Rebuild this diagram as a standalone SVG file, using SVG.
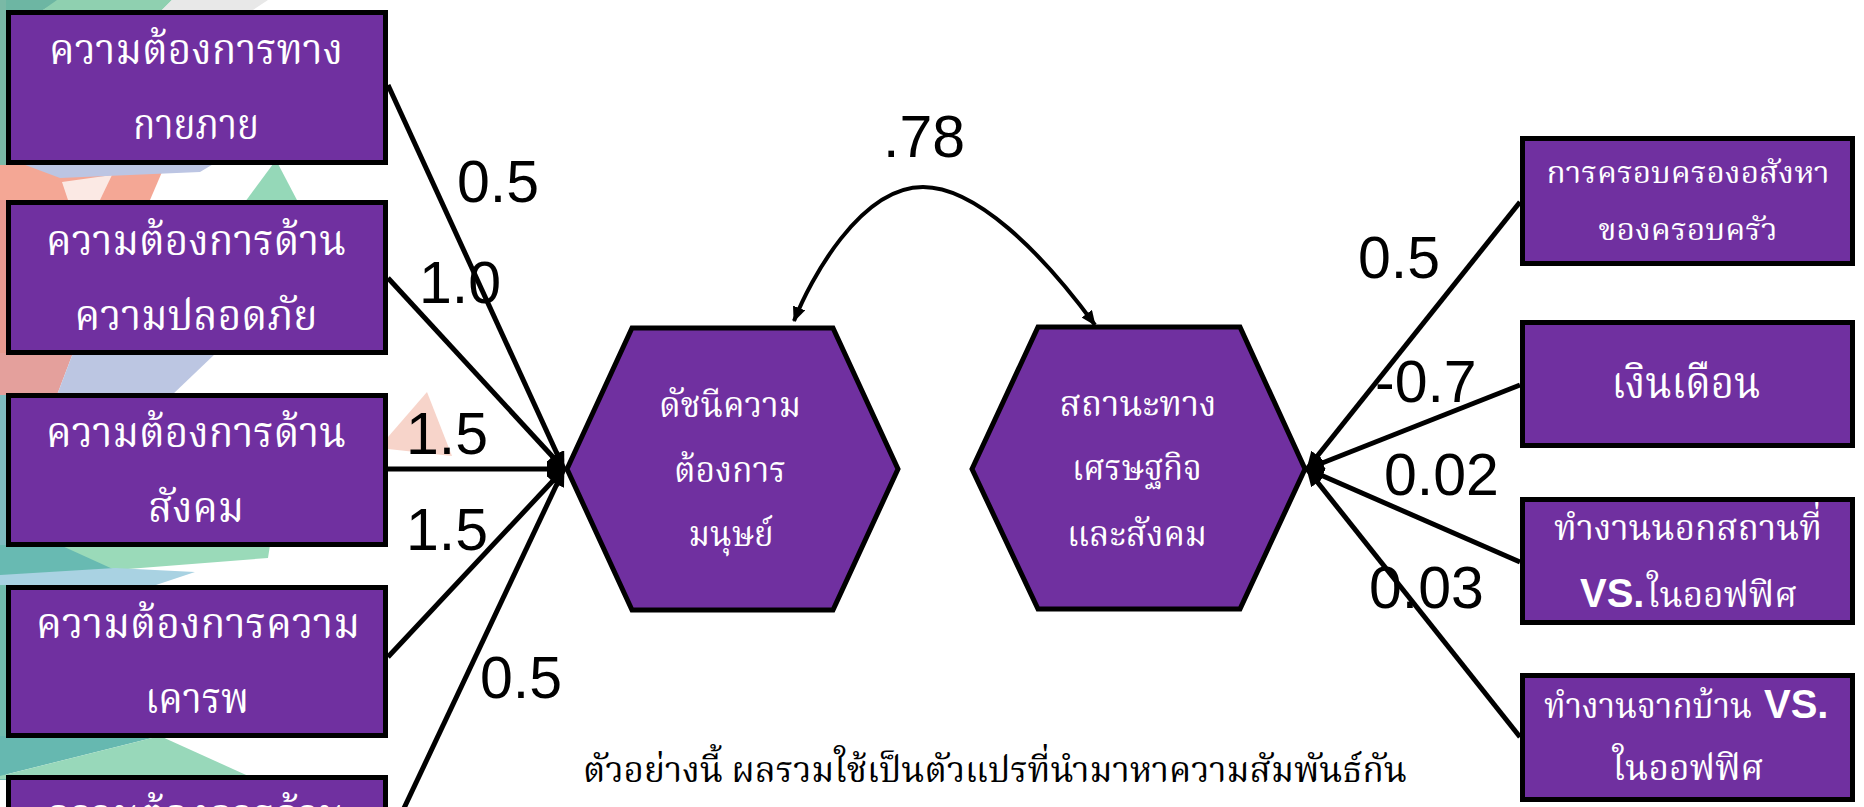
<svg xmlns="http://www.w3.org/2000/svg" width="1864" height="807" viewBox="0 0 1864 807">
  <style>
    .box { fill: #7030A0; stroke: #000; stroke-width: 5; }
    .th { fill: #fff; font-family: "Liberation Serif", "Noto Serif Thai", "Noto Sans Thai", serif; text-anchor: middle; }
    .vs { fill: #fff; font-family: "Liberation Sans", Arial, sans-serif; font-weight: bold; }
    .num { fill: #000; font-family: "Liberation Sans", Arial, sans-serif; font-size: 59px; }
    .edge { stroke: #000; stroke-width: 5; fill: none; marker-end: url(#ah); }
    .cap { fill: #000; font-family: "Liberation Serif", "Noto Serif Thai", serif; }
  </style>
  <defs>
    <marker id="ah" markerWidth="18" markerHeight="16" refX="17" refY="8" orient="auto" markerUnits="userSpaceOnUse">
      <path d="M0,0 L18,8 L0,16 z" fill="#000"/>
    </marker>
    <marker id="ah2" markerWidth="15" markerHeight="13" refX="14" refY="6.5" orient="auto-start-reverse" markerUnits="userSpaceOnUse">
      <path d="M0,0 L15,6.5 L0,13 z" fill="#000"/>
    </marker>
  </defs>

  <rect width="1864" height="807" fill="#fff"/>

  <!-- low-poly backdrop on the left -->
  <g id="backdrop">
    <polygon points="0,0 60,0 40,12 0,12" fill="#6db6a3"/>
    <polygon points="57,0 172,0 160,12 40,12" fill="#8fd0b0"/>
    <polygon points="172,0 268,0 250,12 160,12" fill="#e8e8e8"/>
    <polygon points="0,0 6,0 6,170 0,170" fill="#7ab9a6"/>
    <polygon points="0,165 165,165 150,200 0,200" fill="#f4a795"/>
    <polygon points="62,182 112,175 100,200 68,200" fill="#fbe9e4"/>
    <polygon points="20,163 215,163 200,172 60,178" fill="#bcc5e3"/>
    <polygon points="276,160 245,202 298,202" fill="#95d8b8"/>
    <polygon points="0,200 6,200 6,395 0,395" fill="#e79a8f"/>
    <polygon points="0,353 73,353 57,395 0,395" fill="#e4a09c"/>
    <polygon points="73,353 216,353 172,395 57,395" fill="#bcc6e2"/>
    <polygon points="388,437 427,392 452,456 388,449" fill="#f7d4ca"/>
    <polygon points="0,395 6,395 6,590 0,590" fill="#7fbcc0"/>
    <polygon points="0,545 120,545 115,570 0,580" fill="#68bab2"/>
    <polygon points="60,545 270,545 268,558 115,570" fill="#9adab9"/>
    <polygon points="0,575 115,568 195,572 150,587 0,587" fill="#a9d2e2"/>
    <polygon points="0,585 6,585 6,780 0,780" fill="#72bcae"/>
    <polygon points="0,736 160,736 0,776" fill="#66b8b0"/>
    <polygon points="160,736 255,779 0,779 0,776" fill="#98d8ba"/>
  </g>

  <!-- connectors -->
  <g id="connectors">
    <line class="edge" x1="388" y1="85" x2="564" y2="469"/>
    <line class="edge" x1="388" y1="278" x2="564" y2="469"/>
    <line class="edge" x1="388" y1="469" x2="564" y2="469"/>
    <line class="edge" x1="388" y1="657" x2="564" y2="469"/>
    <line class="edge" x1="389" y1="840" x2="564" y2="469"/>
    <line class="edge" x1="1520" y1="202" x2="1307" y2="469"/>
    <line class="edge" x1="1520" y1="385" x2="1307" y2="469"/>
    <line class="edge" x1="1520" y1="562" x2="1307" y2="469"/>
    <line class="edge" x1="1520" y1="737" x2="1307" y2="469"/>
    <path d="M794,321 C810,280 860,187 923,187 C975,187 1040,250 1095,325" fill="none" stroke="#000" stroke-width="4" marker-start="url(#ah2)" marker-end="url(#ah2)"/>
  </g>

  <!-- path coefficients -->
  <g id="labels">
    <text class="num" x="457" y="202">0.5</text>
    <text class="num" x="419" y="303">1.0</text>
    <text class="num" x="406" y="454">1.5</text>
    <text class="num" x="406" y="550">1.5</text>
    <text class="num" x="480" y="698">0.5</text>
    <text class="num" x="883" y="157">.78</text>
    <text class="num" x="1358" y="278">0.5</text>
    <text class="num" x="1375" y="402">-0.7</text>
    <text class="num" x="1384" y="495">0.02</text>
    <text class="num" x="1369" y="608">0.03</text>
  </g>

  <!-- needs (left) -->
  <g id="need-physical">
    <rect class="box" x="8.5" y="12.5" width="377" height="150"/>
    <text class="th" x="196" y="64" font-size="42" textLength="294" lengthAdjust="spacingAndGlyphs">ความต้องการทาง</text>
    <text class="th" x="196" y="139" font-size="42" textLength="126" lengthAdjust="spacingAndGlyphs">กายภาย</text>
  </g>
  <g id="need-safety">
    <rect class="box" x="8.5" y="202.5" width="377" height="150"/>
    <text class="th" x="196" y="255" font-size="42" textLength="300" lengthAdjust="spacingAndGlyphs">ความต้องการด้าน</text>
    <text class="th" x="196" y="330" font-size="42" textLength="243" lengthAdjust="spacingAndGlyphs">ความปลอดภัย</text>
  </g>
  <g id="need-social">
    <rect class="box" x="8.5" y="395.5" width="377" height="149"/>
    <text class="th" x="196" y="447" font-size="42" textLength="300" lengthAdjust="spacingAndGlyphs">ความต้องการด้าน</text>
    <text class="th" x="196" y="522" font-size="42" textLength="96" lengthAdjust="spacingAndGlyphs">สังคม</text>
  </g>
  <g id="need-esteem">
    <rect class="box" x="8.5" y="587.5" width="377" height="148"/>
    <text class="th" x="198" y="638" font-size="42" textLength="324" lengthAdjust="spacingAndGlyphs">ความต้องการความ</text>
    <text class="th" x="197" y="713" font-size="42" textLength="104" lengthAdjust="spacingAndGlyphs">เคารพ</text>
  </g>
  <g id="need-fifth">
    <rect class="box" x="8.5" y="777.5" width="377" height="150"/>
    <text class="th" x="196" y="829" font-size="42" textLength="300" lengthAdjust="spacingAndGlyphs">ความต้องการด้าน</text>
  </g>

  <!-- latent constructs -->
  <g id="needs-index">
    <polygon class="box" points="567,469 632,328 833,328 898,469 833,610 632,610"/>
    <text class="th" x="730" y="417" font-size="36" textLength="142" lengthAdjust="spacingAndGlyphs">ดัชนีความ</text>
    <text class="th" x="730" y="482" font-size="36" textLength="112" lengthAdjust="spacingAndGlyphs">ต้องการ</text>
    <text class="th" x="731" y="546" font-size="36" textLength="85" lengthAdjust="spacingAndGlyphs">มนุษย์</text>
  </g>
  <g id="ses">
    <polygon class="box" points="972,469 1038,327 1240,327 1305,469 1240,609 1038,609"/>
    <text class="th" x="1138" y="416" font-size="36" textLength="157" lengthAdjust="spacingAndGlyphs">สถานะทาง</text>
    <text class="th" x="1137" y="480" font-size="36" textLength="130" lengthAdjust="spacingAndGlyphs">เศรษฐกิจ</text>
    <text class="th" x="1137" y="546" font-size="36" textLength="140" lengthAdjust="spacingAndGlyphs">และสังคม</text>
  </g>

  <!-- indicators (right) -->
  <g id="ind-assets">
    <rect class="box" x="1522.5" y="138.5" width="330" height="125"/>
    <text class="th" x="1688" y="183" font-size="31" textLength="283" lengthAdjust="spacingAndGlyphs">การครอบครองอสังหา</text>
    <text class="th" x="1688" y="240" font-size="31" textLength="179" lengthAdjust="spacingAndGlyphs">ของครอบครัว</text>
  </g>
  <g id="ind-salary">
    <rect class="box" x="1522.5" y="322.5" width="330" height="123"/>
    <text class="th" x="1686" y="398" font-size="44" textLength="149" lengthAdjust="spacingAndGlyphs">เงินเดือน</text>
  </g>
  <g id="ind-onsite">
    <rect class="box" x="1522.5" y="499.5" width="330" height="123"/>
    <text class="th" x="1688" y="540" font-size="36" textLength="268" lengthAdjust="spacingAndGlyphs">ทำงานนอกสถานที่</text>
    <text class="vs" x="1580" y="607" font-size="40">VS.</text>
    <text class="th" x="1722" y="607" font-size="36" textLength="150" lengthAdjust="spacingAndGlyphs">ในออฟฟิศ</text>
  </g>
  <g id="ind-home">
    <rect class="box" x="1522.5" y="675.5" width="330" height="124"/>
    <text class="th" x="1648" y="718" font-size="36" textLength="208" lengthAdjust="spacingAndGlyphs">ทำงานจากบ้าน</text>
    <text class="vs" x="1764" y="718" font-size="40">VS.</text>
    <text class="th" x="1688" y="780" font-size="36" textLength="151" lengthAdjust="spacingAndGlyphs">ในออฟฟิศ</text>
  </g>

  <text class="cap" x="995" y="782" font-size="36" text-anchor="middle" textLength="824" lengthAdjust="spacingAndGlyphs">ตัวอย่างนี้ ผลรวมใช้เป็นตัวแปรที่นำมาหาความสัมพันธ์กัน</text>
</svg>
